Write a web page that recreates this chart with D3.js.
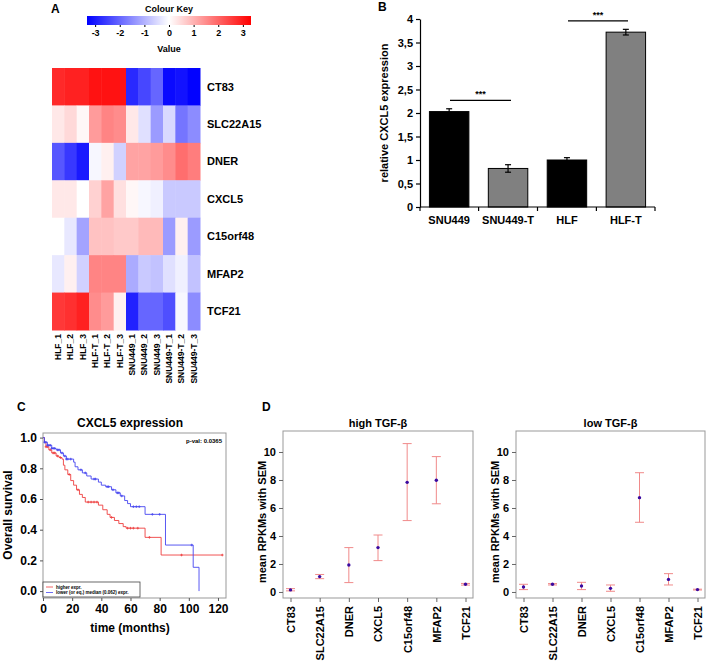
<!DOCTYPE html>
<html>
<head>
<meta charset="utf-8">
<script src="https://cdn.jsdelivr.net/npm/d3@7"></script>
<style>
  body { margin: 0; background: #fff; }
  text { font-family: "Liberation Sans", Arial, sans-serif; font-weight: bold; }
</style>
</head>
<body>
<div id="chart"></div>
<script>
// ---- data ----
// A: heatmap
var heatGenes = ["CT83", "SLC22A15", "DNER", "CXCL5", "C15orf48", "MFAP2", "TCF21"];
var heatSamples = ["HLF_1", "HLF_2", "HLF_3", "HLF-T_1", "HLF-T_2", "HLF-T_3",
  "SNU449_1", "SNU449_2", "SNU449_3", "SNU449-T_1", "SNU449-T_2", "SNU449-T_3"];
var heatValues = [
  [2.8, 2.9, 2.9, 3.1, 3.1, 3.1, -2.8, -2.4, -2.0, -3.2, -3.1, -3.3],
  [0.3, 0.5, 0.1, 1.3, 1.6, 1.5, 0.3, -0.4, -1.3, -0.5, -1.8, -1.5],
  [-2.2, -2.6, -3.0, -0.1, 0.2, -0.6, 1.2, 1.2, 1.3, 1.5, 1.9, 1.7],
  [0.3, 0.3, 0.0, 0.6, 1.2, 0.4, 0.1, -0.1, -0.2, -0.7, -0.7, -0.7],
  [0.0, -0.3, -1.2, 0.8, 0.8, 0.7, 0.7, 0.9, 0.9, -1.3, 0.2, -1.3],
  [-0.3, 0.2, -0.6, 1.6, 1.6, 1.6, -1.1, -0.7, -0.8, -0.4, -0.2, -0.8],
  [2.6, 2.7, 2.9, 1.5, 1.3, 0.2, -2.9, -2.0, -2.0, -2.3, -0.1, -1.5]
];
var keyTicks = [-3, -2, -1, 0, 1, 2, 3];

// B: bars
var barGroups = ["SNU449", "SNU449-T", "HLF", "HLF-T"];
var barValues = [2.03, 0.82, 1.0, 3.72];
var barErrors = [0.06, 0.08, 0.05, 0.06];
var barFills = ["#000000", "#808080", "#000000", "#808080"];
var barTicks = [0, 0.5, 1, 1.5, 2, 2.5, 3, 3.5, 4];

// C: survival curves (time in months, survival after step)
var redTimes = [0, 1, 2, 4, 6, 9, 11, 13, 14, 15, 17, 19, 21, 23, 25, 27, 29, 38, 41, 44, 46, 49, 52, 55, 57, 70, 81, 123];
var redSurv = [1.0, 0.97, 0.94, 0.92, 0.90, 0.88, 0.87, 0.86, 0.82, 0.79, 0.76, 0.72, 0.69, 0.66, 0.63, 0.61, 0.58, 0.56, 0.53, 0.50, 0.48, 0.46, 0.44, 0.42, 0.41, 0.35, 0.235, 0.235];
var redCensor = [2, 3, 5, 7, 8, 10, 12, 18, 24, 31, 33, 35, 37, 47, 58, 60, 62, 65, 73, 95, 123];
var blueTimes = [0, 1, 3, 6, 9, 12, 14, 16, 21, 22, 24, 27, 30, 33, 38, 40, 43, 47, 50, 53, 56, 58, 60, 70, 84, 103, 107, 107];
var blueSurv = [1.0, 0.97, 0.95, 0.93, 0.92, 0.90, 0.88, 0.86, 0.84, 0.81, 0.79, 0.77, 0.75, 0.73, 0.71, 0.69, 0.68, 0.66, 0.64, 0.62, 0.59, 0.57, 0.55, 0.50, 0.30, 0.155, 0.0, 0.0];
var blueCensor = [1, 2, 3, 4, 5, 6, 7, 8, 10, 11, 13, 15, 16, 17, 19, 26, 29, 35, 36, 44, 45, 48, 51, 52, 54, 62, 64, 66, 75, 80, 102];
var survTicksX = [0, 20, 40, 60, 80, 100, 120];
var survTicksY = [0, 0.2, 0.4, 0.6, 0.8, 1.0];

// D: mean RPKMs with SEM
var dotGenes = ["CT83", "SLC22A15", "DNER", "CXCL5", "C15orf48", "MFAP2", "TCF21"];
var highMean = [0.15, 1.1, 1.93, 3.17, 7.83, 7.98, 0.55];
var highLow = [0.08, 0.95, 0.67, 2.24, 5.1, 6.3, 0.49];
var highHigh = [0.24, 1.25, 3.17, 4.07, 10.6, 9.67, 0.61];
var lowMean = [0.36, 0.55, 0.43, 0.26, 6.74, 0.9, 0.17];
var lowLow = [0.17, 0.5, 0.17, 0.05, 4.98, 0.5, 0.14];
var lowHigh = [0.55, 0.6, 0.69, 0.5, 8.52, 1.31, 0.2];
var dotTicks = [0, 2, 4, 6, 8, 10];

// ---- svg ----
var svgWidth = 709;
var svgHeight = 662;
var svg = d3.select("#chart").append("svg")
  .attr("width", svgWidth)
  .attr("height", svgHeight);

function panelLetter(x, y, s) {
  svg.append("text").attr("x", x).attr("y", y).attr("font-size", 12).text(s);
}

// ================= A: heatmap =================
panelLetter(51, 13, "A");

var heatColor = d3.scaleLinear().domain([-3.33, 0, 3.33]).range(["#0000ff", "#ffffff", "#ff0000"]);

// colour key
var keyScale = d3.scaleLinear().domain([-3.33, 3.33]).range([87, 251]);
var defs = svg.append("defs");
var grad = defs.append("linearGradient").attr("id", "keyGrad");
grad.selectAll("stop").data([-3.33, 0, 3.33]).enter().append("stop")
  .attr("offset", (d, i) => (i * 50) + "%")
  .attr("stop-color", d => heatColor(d));
svg.append("rect").attr("x", 87).attr("y", 16).attr("width", 164).attr("height", 9)
  .attr("fill", "url(#keyGrad)");
svg.append("text").attr("x", 169).attr("y", 12).attr("text-anchor", "middle")
  .attr("font-size", 9).text("Colour Key");
var keyG = svg.append("g").attr("transform", "translate(0,25)")
  .call(d3.axisBottom(keyScale).tickValues(keyTicks).tickSize(2).tickFormat(d => String(d).replace("-", "-")));
keyG.select(".domain").remove();
keyG.selectAll("text").attr("font-size", 9).attr("fill", "#000").attr("font-family", "Liberation Sans, Arial").attr("font-weight", "bold");
svg.append("text").attr("x", 169).attr("y", 52).attr("text-anchor", "middle")
  .attr("font-size", 9).text("Value");

var hx = d3.scaleBand().domain(heatSamples).range([52, 200]);
var hy = d3.scaleBand().domain(heatGenes).range([68, 330]);

heatGenes.forEach(function(g, i) {
  svg.selectAll(".cell" + i)
    .data(heatValues[i])
    .enter()
    .append("rect")
    .attr("x", (d, j) => hx(heatSamples[j]))
    .attr("y", hy(g))
    .attr("width", hx.bandwidth() + 0.5)
    .attr("height", hy.bandwidth() + 0.5)
    .attr("fill", d => heatColor(d));
});

svg.selectAll(".geneLabel").data(heatGenes).enter().append("text")
  .attr("x", 207)
  .attr("y", d => hy(d) + hy.bandwidth() / 2)
  .attr("dy", "0.35em")
  .attr("font-size", 11)
  .text(d => d);

svg.selectAll(".sampleLabel").data(heatSamples).enter().append("text")
  .attr("transform", d => `translate(${hx(d) + hx.bandwidth() / 2}, 334) rotate(-90)`)
  .attr("text-anchor", "end")
  .attr("dy", "0.35em")
  .attr("font-size", 8.5)
  .text(d => d);

// ================= B: bar chart =================
panelLetter(378, 11, "B");

var bx = d3.scaleBand().domain(barGroups).range([420, 655]).paddingInner(0.33).paddingOuter(0.16);
var by = d3.scaleLinear().domain([0, 4]).range([207, 19]);

var yAxisB = svg.append("g").attr("transform", "translate(420,0)")
  .call(d3.axisLeft(by).tickValues(barTicks).tickSize(4).tickSizeOuter(0)
    .tickFormat(d => d3.format(".1~f")(d).replace(".", ",")));
yAxisB.selectAll("text").attr("font-size", 11).attr("fill", "#000")
  .attr("font-family", "Liberation Sans, Arial").attr("font-weight", "bold");
yAxisB.selectAll("line, path").attr("stroke", "#000").attr("stroke-width", 1.2);

svg.selectAll(".bar").data(barValues).enter().append("rect")
  .attr("x", (d, i) => bx(barGroups[i]))
  .attr("y", d => by(d))
  .attr("width", bx.bandwidth())
  .attr("height", d => by(0) - by(d))
  .attr("fill", (d, i) => barFills[i])
  .attr("stroke", "#000")
  .attr("stroke-width", 1);

// error bars
barValues.forEach(function(v, i) {
  var cx = bx(barGroups[i]) + bx.bandwidth() / 2;
  svg.append("line").attr("x1", cx).attr("x2", cx)
    .attr("y1", by(v - barErrors[i])).attr("y2", by(v + barErrors[i]))
    .attr("stroke", "#000").attr("stroke-width", 1.2);
  [v - barErrors[i], v + barErrors[i]].forEach(function(e) {
    svg.append("line").attr("x1", cx - 3).attr("x2", cx + 3)
      .attr("y1", by(e)).attr("y2", by(e)).attr("stroke", "#000").attr("stroke-width", 1.2);
  });
});

// x axis with ticks at category edges
svg.append("line").attr("x1", 420).attr("x2", 655).attr("y1", 207).attr("y2", 207)
  .attr("stroke", "#000").attr("stroke-width", 1.2);
var edges = [420].concat(barGroups.map(g => bx(g) + bx.bandwidth() + bx.step() * bx.paddingInner() / 2));
edges[edges.length - 1] = 655;
svg.selectAll(".edgeTick").data(edges).enter().append("line")
  .attr("x1", d => d).attr("x2", d => d).attr("y1", 207).attr("y2", 211)
  .attr("stroke", "#000").attr("stroke-width", 1.2);
svg.selectAll(".barLabel").data(barGroups).enter().append("text")
  .attr("x", d => bx(d) + bx.bandwidth() / 2)
  .attr("y", 224)
  .attr("text-anchor", "middle")
  .attr("font-size", 11)
  .text(d => d);

svg.append("text")
  .attr("transform", "translate(388,113) rotate(-90)")
  .attr("text-anchor", "middle")
  .attr("font-size", 11)
  .text("relative CXCL5 expression");

// significance
function sigLine(val, x1, x2) {
  var yy = by(val);
  svg.append("line").attr("x1", x1).attr("x2", x2).attr("y1", yy).attr("y2", yy)
    .attr("stroke", "#000").attr("stroke-width", 1.2);
  svg.append("text").attr("x", (x1 + x2) / 2).attr("y", yy - 3).attr("text-anchor", "middle")
    .attr("font-size", 9).text("***");
}
sigLine(2.27, 450, 511);
sigLine(3.96, 568, 628);

// ================= C: survival =================
panelLetter(17, 411, "C");

var sx = d3.scaleLinear().domain([0, 125.5]).range([43, 226]);
var sy = d3.scaleLinear().domain([-0.045, 1.03]).range([598, 433]);

svg.append("rect").attr("x", 43).attr("y", 433).attr("width", 183).attr("height", 165)
  .attr("fill", "none").attr("stroke", "#999").attr("stroke-width", 1);

var sxAxis = svg.append("g").attr("transform", "translate(0,598)")
  .call(d3.axisBottom(sx).tickValues(survTicksX).tickSize(3).tickSizeOuter(0));
sxAxis.select(".domain").remove();
var syAxis = svg.append("g").attr("transform", "translate(43,0)")
  .call(d3.axisLeft(sy).tickValues(survTicksY).tickSize(3).tickSizeOuter(0).tickFormat(d3.format(".1f")));
syAxis.select(".domain").remove();
[sxAxis, syAxis].forEach(function(a) {
  a.selectAll("text").attr("font-size", 12).attr("fill", "#000")
    .attr("font-family", "Liberation Sans, Arial").attr("font-weight", "bold");
  a.selectAll("line").attr("stroke", "#555");
});

svg.append("text").attr("x", 130).attr("y", 427).attr("text-anchor", "middle")
  .attr("font-size", 12).text("CXCL5 expression");
svg.append("text").attr("x", 222).attr("y", 443).attr("text-anchor", "end")
  .attr("font-size", 6).attr("font-weight", "normal").text("p-val: 0.0365");
svg.append("text").attr("transform", "translate(12,515) rotate(-90)")
  .attr("text-anchor", "middle").attr("font-size", 12).text("Overall survival");
svg.append("text").attr("x", 130).attr("y", 632).attr("text-anchor", "middle")
  .attr("font-size", 12).text("time (months)");

var stepLine = d3.line().curve(d3.curveStepAfter).x(d => sx(d[0])).y(d => sy(d[1]));

function survAt(times, surv, t) {
  var s = surv[0];
  for (var i = 0; i < times.length; i++) { if (times[i] <= t) s = surv[i]; }
  return s;
}

function drawCurve(times, surv, censor, color) {
  svg.append("path")
    .datum(times.map((t, i) => [t, surv[i]]))
    .attr("d", stepLine)
    .attr("fill", "none")
    .attr("stroke", color)
    .attr("stroke-width", 0.9);
  censor.forEach(function(t) {
    var cx = sx(t), cy = sy(survAt(times, surv, t));
    svg.append("path")
      .attr("d", `M${cx - 1.3},${cy}H${cx + 1.3}M${cx},${cy - 1.3}V${cy + 1.3}`)
      .attr("stroke", color).attr("stroke-width", 0.8);
  });
}
drawCurve(redTimes, redSurv, redCensor, "#ee4040");
drawCurve(blueTimes, blueSurv, blueCensor, "#4646f0");

// legend
svg.append("rect").attr("x", 43).attr("y", 582).attr("width", 97).attr("height", 15)
  .attr("fill", "#fff").attr("stroke", "#444").attr("stroke-width", 0.8);
[["higher expr.", "#ee4040"], ["lower (or eq.) median (0.062) expr.", "#4646f0"]].forEach(function(l, i) {
  var yy = 587 + i * 5.5;
  svg.append("line").attr("x1", 46).attr("x2", 53).attr("y1", yy).attr("y2", yy)
    .attr("stroke", l[1]).attr("stroke-width", 0.8);
  svg.append("text").attr("x", 56).attr("y", yy).attr("dy", "0.35em")
    .attr("font-size", 4.5).attr("font-weight", "normal").text(l[0]);
});

// ================= D: dot plots =================
panelLetter(262, 411, "D");

function dotPlot(left, right, means, lows, highs, title, ylabX) {
  var x = d3.scalePoint().domain(dotGenes).range([left + 7.5, right - 7.5]);
  var y = d3.scaleLinear().domain([-0.43, 11.5]).range([598, 431]);

  svg.append("rect").attr("x", left).attr("y", 431).attr("width", right - left).attr("height", 167)
    .attr("fill", "none").attr("stroke", "#999").attr("stroke-width", 1);

  var ya = svg.append("g").attr("transform", `translate(${left},0)`)
    .call(d3.axisLeft(y).tickValues(dotTicks).tickSize(4).tickSizeOuter(0));
  ya.select(".domain").remove();
  var xa = svg.append("g").attr("transform", "translate(0,598)")
    .call(d3.axisBottom(x).tickSize(4).tickSizeOuter(0));
  xa.select(".domain").remove();
  [ya, xa].forEach(function(a) {
    a.selectAll("text").attr("font-size", 11).attr("fill", "#000")
      .attr("font-family", "Liberation Sans, Arial").attr("font-weight", "bold");
    a.selectAll("line").attr("stroke", "#666");
  });
  xa.selectAll("text")
    .attr("transform", "rotate(-90)")
    .attr("text-anchor", "end")
    .attr("x", -8)
    .attr("y", 0)
    .attr("dy", "0.35em");

  svg.append("text").attr("x", (left + right) / 2).attr("y", 427).attr("text-anchor", "middle")
    .attr("font-size", 11).text(title);
  svg.append("text").attr("transform", `translate(${ylabX},${y(5)}) rotate(-90)`)
    .attr("text-anchor", "middle").attr("font-size", 11).text("mean RPKMs with SEM");

  dotGenes.forEach(function(g, i) {
    var cx = x(g);
    svg.append("line").attr("x1", cx).attr("x2", cx).attr("y1", y(lows[i])).attr("y2", y(highs[i]))
      .attr("stroke", "#f08a8a").attr("stroke-width", 1);
    [lows[i], highs[i]].forEach(function(e) {
      svg.append("line").attr("x1", cx - 4.5).attr("x2", cx + 4.5).attr("y1", y(e)).attr("y2", y(e))
        .attr("stroke", "#f08a8a").attr("stroke-width", 1);
    });
  });
  svg.selectAll(null).data(means).enter().append("circle")
    .attr("cx", (d, i) => x(dotGenes[i]))
    .attr("cy", d => y(d))
    .attr("r", 1.7)
    .attr("fill", "#3a0aa0");
}
dotPlot(283, 473, highMean, highLow, highHigh, "high TGF-\u03b2", 266);
dotPlot(516, 705, lowMean, lowLow, lowHigh, "low TGF-\u03b2", 499);
</script>
</body>
</html>
